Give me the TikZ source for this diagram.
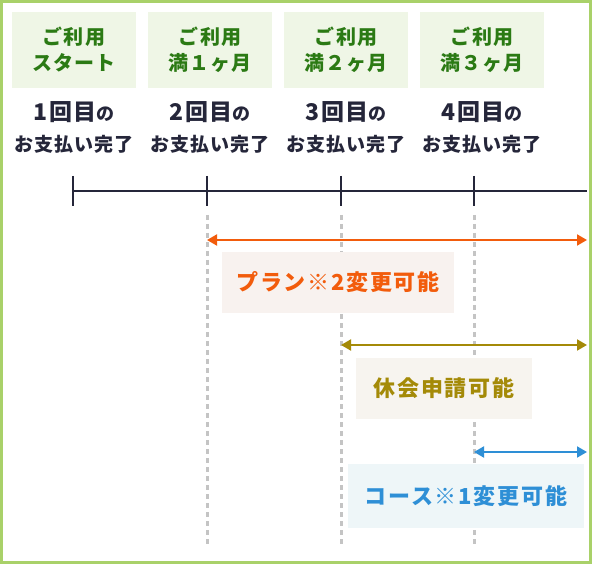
\documentclass[tikz,border=0pt]{standalone}
\usepackage{fontspec}
\newfontfamily\headfont{Noto Sans CJK JP}[LetterSpace=6]
\newfontfamily\payfont{Noto Sans CJK JP}[LetterSpace=5]
\newfontfamily\infofont{Noto Sans CJK JP}[LetterSpace=8]
\usetikzlibrary{arrows.meta}
\definecolor{framegreen}{HTML}{A9D169}
\definecolor{headfill}{HTML}{EFF6E6}
\definecolor{headtext}{HTML}{2B7A14}
\definecolor{paytext}{HTML}{25263A}
\definecolor{guidegray}{HTML}{C4C4C4}
\definecolor{planorange}{HTML}{F25C0C}
\definecolor{planfill}{HTML}{F8F2EF}
\definecolor{restolive}{HTML}{A48A08}
\definecolor{restfill}{HTML}{F7F4EF}
\definecolor{courseblue}{HTML}{2E8FD6}
\definecolor{coursefill}{HTML}{EEF6F8}
\tikzset{
  headbox/.style={fill=headfill, text=headtext, minimum width=124pt, minimum height=76pt,
    align=center, inner sep=0pt, font=\headfont\bfseries\fontsize{20}{26}\selectfont},
  paycount/.style={text=paytext, inner sep=0pt, font=\payfont\bfseries\fontsize{23}{24}\selectfont},
  paydone/.style={text=paytext, inner sep=0pt, font=\payfont\bfseries\fontsize{19}{20}\selectfont},
  guide/.style={guidegray, line width=3pt, dash pattern=on 5pt off 4pt},
  spanarrow/.style={line width=2pt, {Triangle[length=10pt,width=11pt]}-{Triangle[length=10pt,width=11pt]}},
  infobox/.style={minimum height=61pt, inner sep=0pt, font=\infofont\bfseries\fontsize{22}{24}\selectfont}
}
\begin{document}
\begin{tikzpicture}[x=1pt,y=-1pt]
  \useasboundingbox (0,0) rectangle (592,564);
  % frame
  \draw[framegreen, line width=3pt, fill=white] (1.5,1.5) rectangle (590.5,562.5);

  % header boxes
  \foreach \i/\x/\txt in {1/74/{ご利用\\スタート}, 2/210/{ご利用\\満１ヶ月},
                         3/346/{ご利用\\満２ヶ月}, 4/482/{ご利用\\満３ヶ月}}{
    \node[headbox] (h\i) at (\x,50) {\txt};
    \node[paycount] (pc\i) at (\x,112) {\i 回目{\fontsize{18}{20}\selectfont の}};
    \node[paydone] (pd\i) at (\x,144) {お支払い完了};
  }

  % time line
  \foreach \i/\x in {1/73,2/207,3/341,4/474}{
    \coordinate (t\i) at (\x,191);
    \draw[paytext, line width=2pt] (\x,176) -- (\x,206);
  }
  \coordinate (tend) at (587,191);
  \draw[paytext, line width=2pt] (t1) -- (tend);

  % guides
  \draw[guide] (207,215) -- (207,545);
  \draw[guide] (341,215) -- (341,545);
  \draw[guide] (474,215) -- (474,545);

  % plan change
  \coordinate (ps) at (207,240);
  \coordinate (pe) at (587,240);
  \draw[spanarrow, planorange] (ps) -- (pe);
  \node[infobox, fill=planfill, text=planorange, minimum width=232pt] (plan) at (338,282.5) {プラン※2変更可能};

  % rest
  \coordinate (rs) at (341,345);
  \coordinate (re) at (587,345);
  \draw[spanarrow, restolive] (rs) -- (re);
  \node[infobox, fill=restfill, text=restolive, minimum width=176pt] (rest) at (444,388.5) {休会申請可能};

  % course change
  \coordinate (cs) at (474,452);
  \coordinate (ce) at (587,452);
  \draw[spanarrow, courseblue] (cs) -- (ce);
  \node[infobox, fill=coursefill, text=courseblue, minimum width=236pt, minimum height=64pt] (course) at (466,496) {コース※1変更可能};
\end{tikzpicture}
\end{document}
